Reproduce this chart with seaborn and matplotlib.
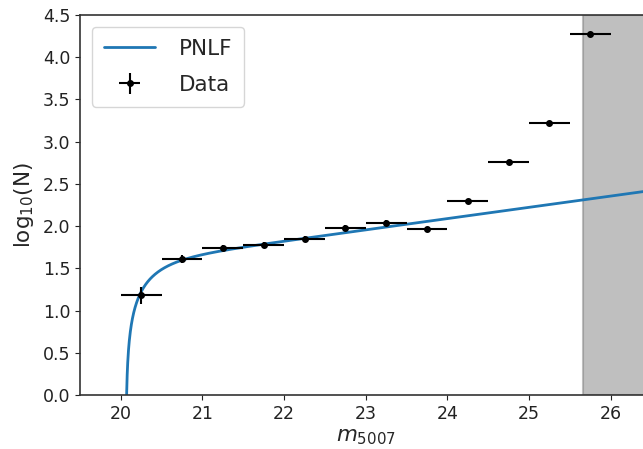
import numpy as np
import pandas as pd
import matplotlib
matplotlib.use("Agg")
import matplotlib.pyplot as plt
import seaborn as sns

# Data
m_bins = [20.25, 20.75, 21.25, 21.75, 22.25, 22.75, 23.25, 23.75, 24.25, 24.75, 25.25, 25.75]
log_n = [1.18, 1.61, 1.74, 1.78, 1.85, 1.98, 2.04, 1.96, 2.30, 2.757, 3.22, 4.27]
log_n_err = [0.10, 0.05, 0.04, 0.035, 0.035, 0.03, 0.03, 0.03, 0.02, 0.015, 0.01, 0.005]
bin_half_width = [0.25] * 12

# PNLF model parameters (Ciardullo form)
m_star = 20.062
log_amp = -1.111
completeness_limit = 25.66

x_ticks = [20, 21, 22, 23, 24, 25, 26]
y_ticks = [0.0, 0.5, 1.0, 1.5, 2.0, 2.5, 3.0, 3.5, 4.0, 4.5]

sns.set_style("ticks")
plt.rcParams['font.family'] = ['DejaVu Sans']

fig = plt.figure(figsize=(6.43, 4.49), dpi=100)
ax = fig.add_axes([0.1244, 0.1203, 0.8888, 0.8463])

m_grid = np.linspace(m_star + 1e-6, 26.5, 2000)
pnlf = log_amp + 0.307 * m_grid * np.log10(np.e) + np.log10(1 - np.exp(3 * (m_star - m_grid)))
curve = pd.DataFrame({"m": m_grid, "logN": pnlf})
sns.lineplot(data=curve, x="m", y="logN", ax=ax, color="#1f77b4", lw=2, label="PNLF")

ax.errorbar(m_bins, log_n, xerr=bin_half_width, yerr=log_n_err, fmt="o", color="black",
            ms=4, elinewidth=1.5, capsize=0, label="Data")

ax.axvspan(completeness_limit, 27, color="gray", alpha=0.5, lw=1.5)

ax.set_xlim(19.5, 26.5)
ax.set_ylim(0, 4.5)
ax.set_xticks(x_ticks)
ax.set_yticks(y_ticks)
ax.set_xlabel(r"$m_{5007}$", fontsize=15.5, labelpad=3)
ax.set_ylabel(r"log$_{10}$(N)", fontsize=15.5, labelpad=5)
ax.tick_params(labelsize=12.5, colors="#222222")
for s in ax.spines.values():
    s.set_color("#333333")
    s.set_linewidth(1.2)
ax.legend(loc="upper left", fontsize=15.5, handlelength=2.4, handletextpad=1.1,
          labelspacing=0.75, borderpad=0.55, borderaxespad=0.55)

fig.savefig("out.png", dpi=100)
